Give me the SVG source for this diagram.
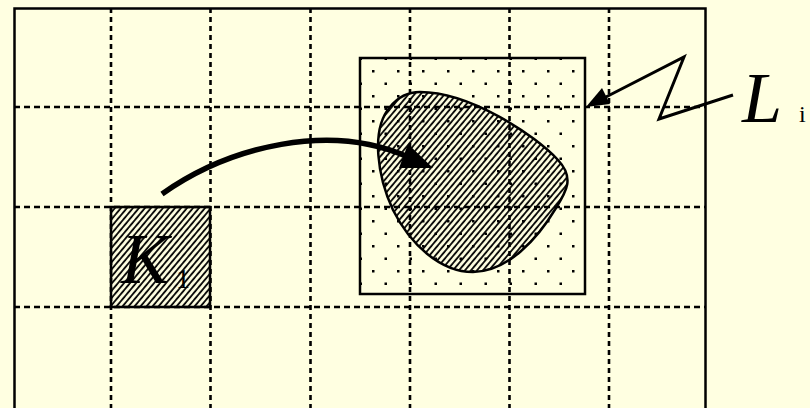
<svg xmlns="http://www.w3.org/2000/svg" width="810" height="408" viewBox="0 0 810 408">
<style>
.grid{stroke:#000;stroke-width:2.6;stroke-dasharray:5 4;fill:none}
.frame{stroke:#000;stroke-width:2.5;fill:none}
.lbl{font-family:"Liberation Serif","Times New Roman",serif;fill:#000}
.big{font-size:72px;font-style:italic}
.sub1{font-size:28px;font-style:normal}
.subi{font-size:24px;font-style:normal}
</style>
<defs>
<pattern id="dots" patternUnits="userSpaceOnUse" x="372" y="70" width="25" height="25">
<rect x="0" y="0" width="2.5" height="2.5" fill="#000"/>
<rect x="12.5" y="12.5" width="2.5" height="2.5" fill="#000"/>
</pattern>
<pattern id="hatch" patternUnits="userSpaceOnUse" width="4.6" height="10" patternTransform="rotate(40)">
<line x1="1" y1="-1" x2="1" y2="11" stroke="#000" stroke-width="1.8"/>
</pattern>
</defs>
<rect width="810" height="408" fill="#FFFFE1"/>
<g id="L-box">
<rect x="360" y="58" width="225" height="236" fill="url(#dots)"/>
</g>
<g id="region">
<path d="M420,92 C470,92 535,135 558,160 C575,178 566,192 556,208 C538,238 508,272 473,272 C440,272 410,244 393,210 C378,178 370,130 390,107 C398,97 408,92 420,92 Z" fill="url(#hatch)"/>
</g>
<g id="K-box">
<rect x="111" y="207" width="99" height="100" fill="url(#hatch)"/>
</g>
<g id="grid">
<line class="grid" x1="111" y1="8" x2="111" y2="408"/>
<line class="grid" x1="210.5" y1="8" x2="210.5" y2="408"/>
<line class="grid" x1="310.5" y1="8" x2="310.5" y2="408"/>
<line class="grid" x1="410" y1="8" x2="410" y2="408"/>
<line class="grid" x1="509.5" y1="8" x2="509.5" y2="408"/>
<line class="grid" x1="609" y1="8" x2="609" y2="408"/>
<line class="grid" x1="14" y1="107" x2="705" y2="107" style="stroke-dasharray:6 4"/>
<line class="grid" x1="14" y1="207" x2="705" y2="207" style="stroke-dasharray:6 4"/>
<line class="grid" x1="14" y1="307" x2="705" y2="307" style="stroke-dasharray:6 4"/>
</g>
<g id="frame">
<rect class="frame" x="14.5" y="8.5" width="691" height="420" stroke-width="3"/>
</g>
<g id="L-box-border">
<rect class="frame" x="360" y="58" width="225" height="236"/>
</g>
<g id="region-border">
<path d="M420,92 C470,92 535,135 558,160 C575,178 566,192 556,208 C538,238 508,272 473,272 C440,272 410,244 393,210 C378,178 370,130 390,107 C398,97 408,92 420,92 Z" fill="none" stroke="#000" stroke-width="2.5"/>
</g>
<g id="K-box-border">
<rect class="frame" x="111" y="207" width="99" height="100"/>
</g>
<g id="connectors">
<path d="M162,194 C230,146 330,122 408,157" fill="none" stroke="#000" stroke-width="5.5"/>
<polygon points="433,168 408,144 399,168" fill="#000"/>
<polyline points="733,95 659,119 684,57 602,99" fill="none" stroke="#000" stroke-width="3"/>
<polygon points="586,107 602,88 610,104" fill="#000"/>
</g>
<g id="labels">
<text class="lbl big" x="121" y="283">K</text>
<text class="lbl sub1" x="176" y="288">1</text>
<text class="lbl big" x="742" y="122">L</text>
<text class="lbl subi" x="799" y="122">i</text>
</g>
</svg>
